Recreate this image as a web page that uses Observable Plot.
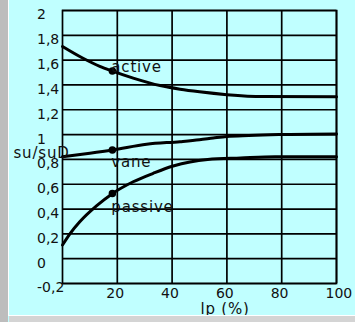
<!DOCTYPE html>
<html>
<head>
<meta charset="utf-8">
<script src="https://cdn.jsdelivr.net/npm/d3@7"></script>
<script src="https://cdn.jsdelivr.net/npm/@observablehq/plot@0.6"></script>
<style>
  html, body { margin: 0; padding: 0; background: #c0ffff; }
  #wrap { position: relative; width: 355px; height: 322px; background: #c0ffff; overflow: hidden; }
  #wrap svg { position: absolute; left: 0; top: 0; }
  .strip { position: absolute; }
</style>
</head>
<body>
<div id="wrap">
  <div id="chart"></div>
  <div class="strip" style="left:0;top:0;width:8px;height:322px;background:#bdbdbd"></div>
  <div class="strip" style="left:8px;top:0;width:1px;height:316px;background:#ffffff"></div>
  <div class="strip" style="left:8px;top:315px;width:347px;height:1px;background:#ffffff"></div>
  <div class="strip" style="left:9px;top:316px;width:346px;height:6px;background:#d4d4d4"></div>
</div>
<script>
// Axis ticks and labels
const xTicks = [20, 40, 60, 80, 100];
const xTickLabels = ["20", "40", "60", "80", "100"];
const yTicks = [-0.2, 0, 0.2, 0.4, 0.6, 0.8, 1, 1.2, 1.4, 1.6, 1.8, 2];
const yTickLabels = ["-0,2", "0", "0,2", "0,4", "0,6", "0,8", "1", "1,2", "1,4", "1,6", "1,8", "2"];
const xAxisTitle = "lp (%)";
const yAxisTitle = "su/suD";

// Series
const seriesNames = ["active", "vane", "passive"];
const activeX = [0, 7.5, 13.6, 18, 25.8, 35.6, 42.9, 50, 60, 73, 100];
const activeY = [1.71, 1.615, 1.55, 1.513, 1.455, 1.395, 1.366, 1.345, 1.322, 1.306, 1.305];
const vaneX = [0, 10, 18.3, 30.7, 42.9, 50, 55, 60, 68, 79, 100];
const vaneY = [0.822, 0.85, 0.876, 0.922, 0.943, 0.958, 0.972, 0.985, 0.993, 1.0, 1.005];
const passiveX = [0, 2.7, 6.3, 12.4, 18.3, 25.8, 33.1, 40.4, 53, 65, 77.6, 100];
const passiveY = [0.11, 0.2, 0.297, 0.425, 0.526, 0.62, 0.688, 0.747, 0.8, 0.812, 0.822, 0.822];

// Markers at lp = 18
const markerX = 18.2;
const markerY = [1.513, 0.876, 0.526];

const pts = (xs, ys) => xs.map((x, i) => [x, ys[i]]);
const ink = "#000";
const gridW = 1.7;

const chart = Plot.plot({
  width: 355,
  height: 322,
  marginLeft: 62,
  marginRight: 19,
  marginTop: 10,
  marginBottom: 39,
  style: { background: "transparent", fontFamily: "DejaVu Sans", fontSize: "14px", color: "#111", overflow: "visible" },
  x: { domain: [0, 100], label: null },
  y: { domain: [-0.2, 2], label: null },
  marks: [
    Plot.ruleX(xTicks, { stroke: ink, strokeWidth: gridW }),
    Plot.ruleY(yTicks, { stroke: ink, strokeWidth: gridW }),
    Plot.frame({ stroke: ink, strokeWidth: gridW }),
    Plot.axisX(xTicks, {
      tickSize: 0, tickPadding: 5, textAnchor: "start", dx: -11,
      tickFormat: d => xTickLabels[xTicks.indexOf(d)], label: null, fontSize: 14
    }),
    Plot.axisY(yTicks, {
      tickSize: 0, tickPadding: 0, textAnchor: "start", lineAnchor: "top", dx: -25.5, dy: -1,
      tickFormat: d => yTickLabels[yTicks.indexOf(d)], label: null, fontSize: 14
    }),
    Plot.line(pts(activeX, activeY), { stroke: ink, strokeWidth: 3, curve: "monotone-x" }),
    Plot.line(pts(vaneX, vaneY), { stroke: ink, strokeWidth: 3, curve: "monotone-x" }),
    Plot.line(pts(passiveX, passiveY), { stroke: ink, strokeWidth: 3, curve: "monotone-x" }),
    Plot.dot(markerY, { x: () => markerX, y: d => d, r: 3, fill: ink, stroke: ink }),
    Plot.text([seriesNames[0]], { x: () => markerX, y: () => markerY[0], text: d => d, textAnchor: "start", lineAnchor: "bottom", dx: -1, dy: 1, fontSize: 15, fill: "#111" }),
    Plot.text([seriesNames[1]], { x: () => markerX, y: () => markerY[1], text: d => d, textAnchor: "start", lineAnchor: "bottom", dx: -1, dy: 17.5, fontSize: 15, fill: "#111" }),
    Plot.text([seriesNames[2]], { x: () => markerX, y: () => markerY[2], text: d => d, textAnchor: "start", lineAnchor: "bottom", dx: -1, dy: 18.5, fontSize: 15, fill: "#111" }),
    Plot.text([yAxisTitle], { frameAnchor: "left", text: d => d, textAnchor: "start", lineAnchor: "bottom", dx: -49, dy: 10.5, fontSize: 15, fill: "#111" }),
    Plot.text([xAxisTitle], { frameAnchor: "bottom", text: d => d, textAnchor: "start", lineAnchor: "top", dx: 1, dy: 20, fontSize: 15, fill: "#111" })
  ]
});

document.getElementById("chart").appendChild(chart);
d3.select(chart).selectAll("text")
  .filter(function () { return this.textContent === yAxisTitle || seriesNames.includes(this.textContent) || this.textContent === xAxisTitle; })
  .style("letter-spacing", "0.8px");
</script>
</body>
</html>
